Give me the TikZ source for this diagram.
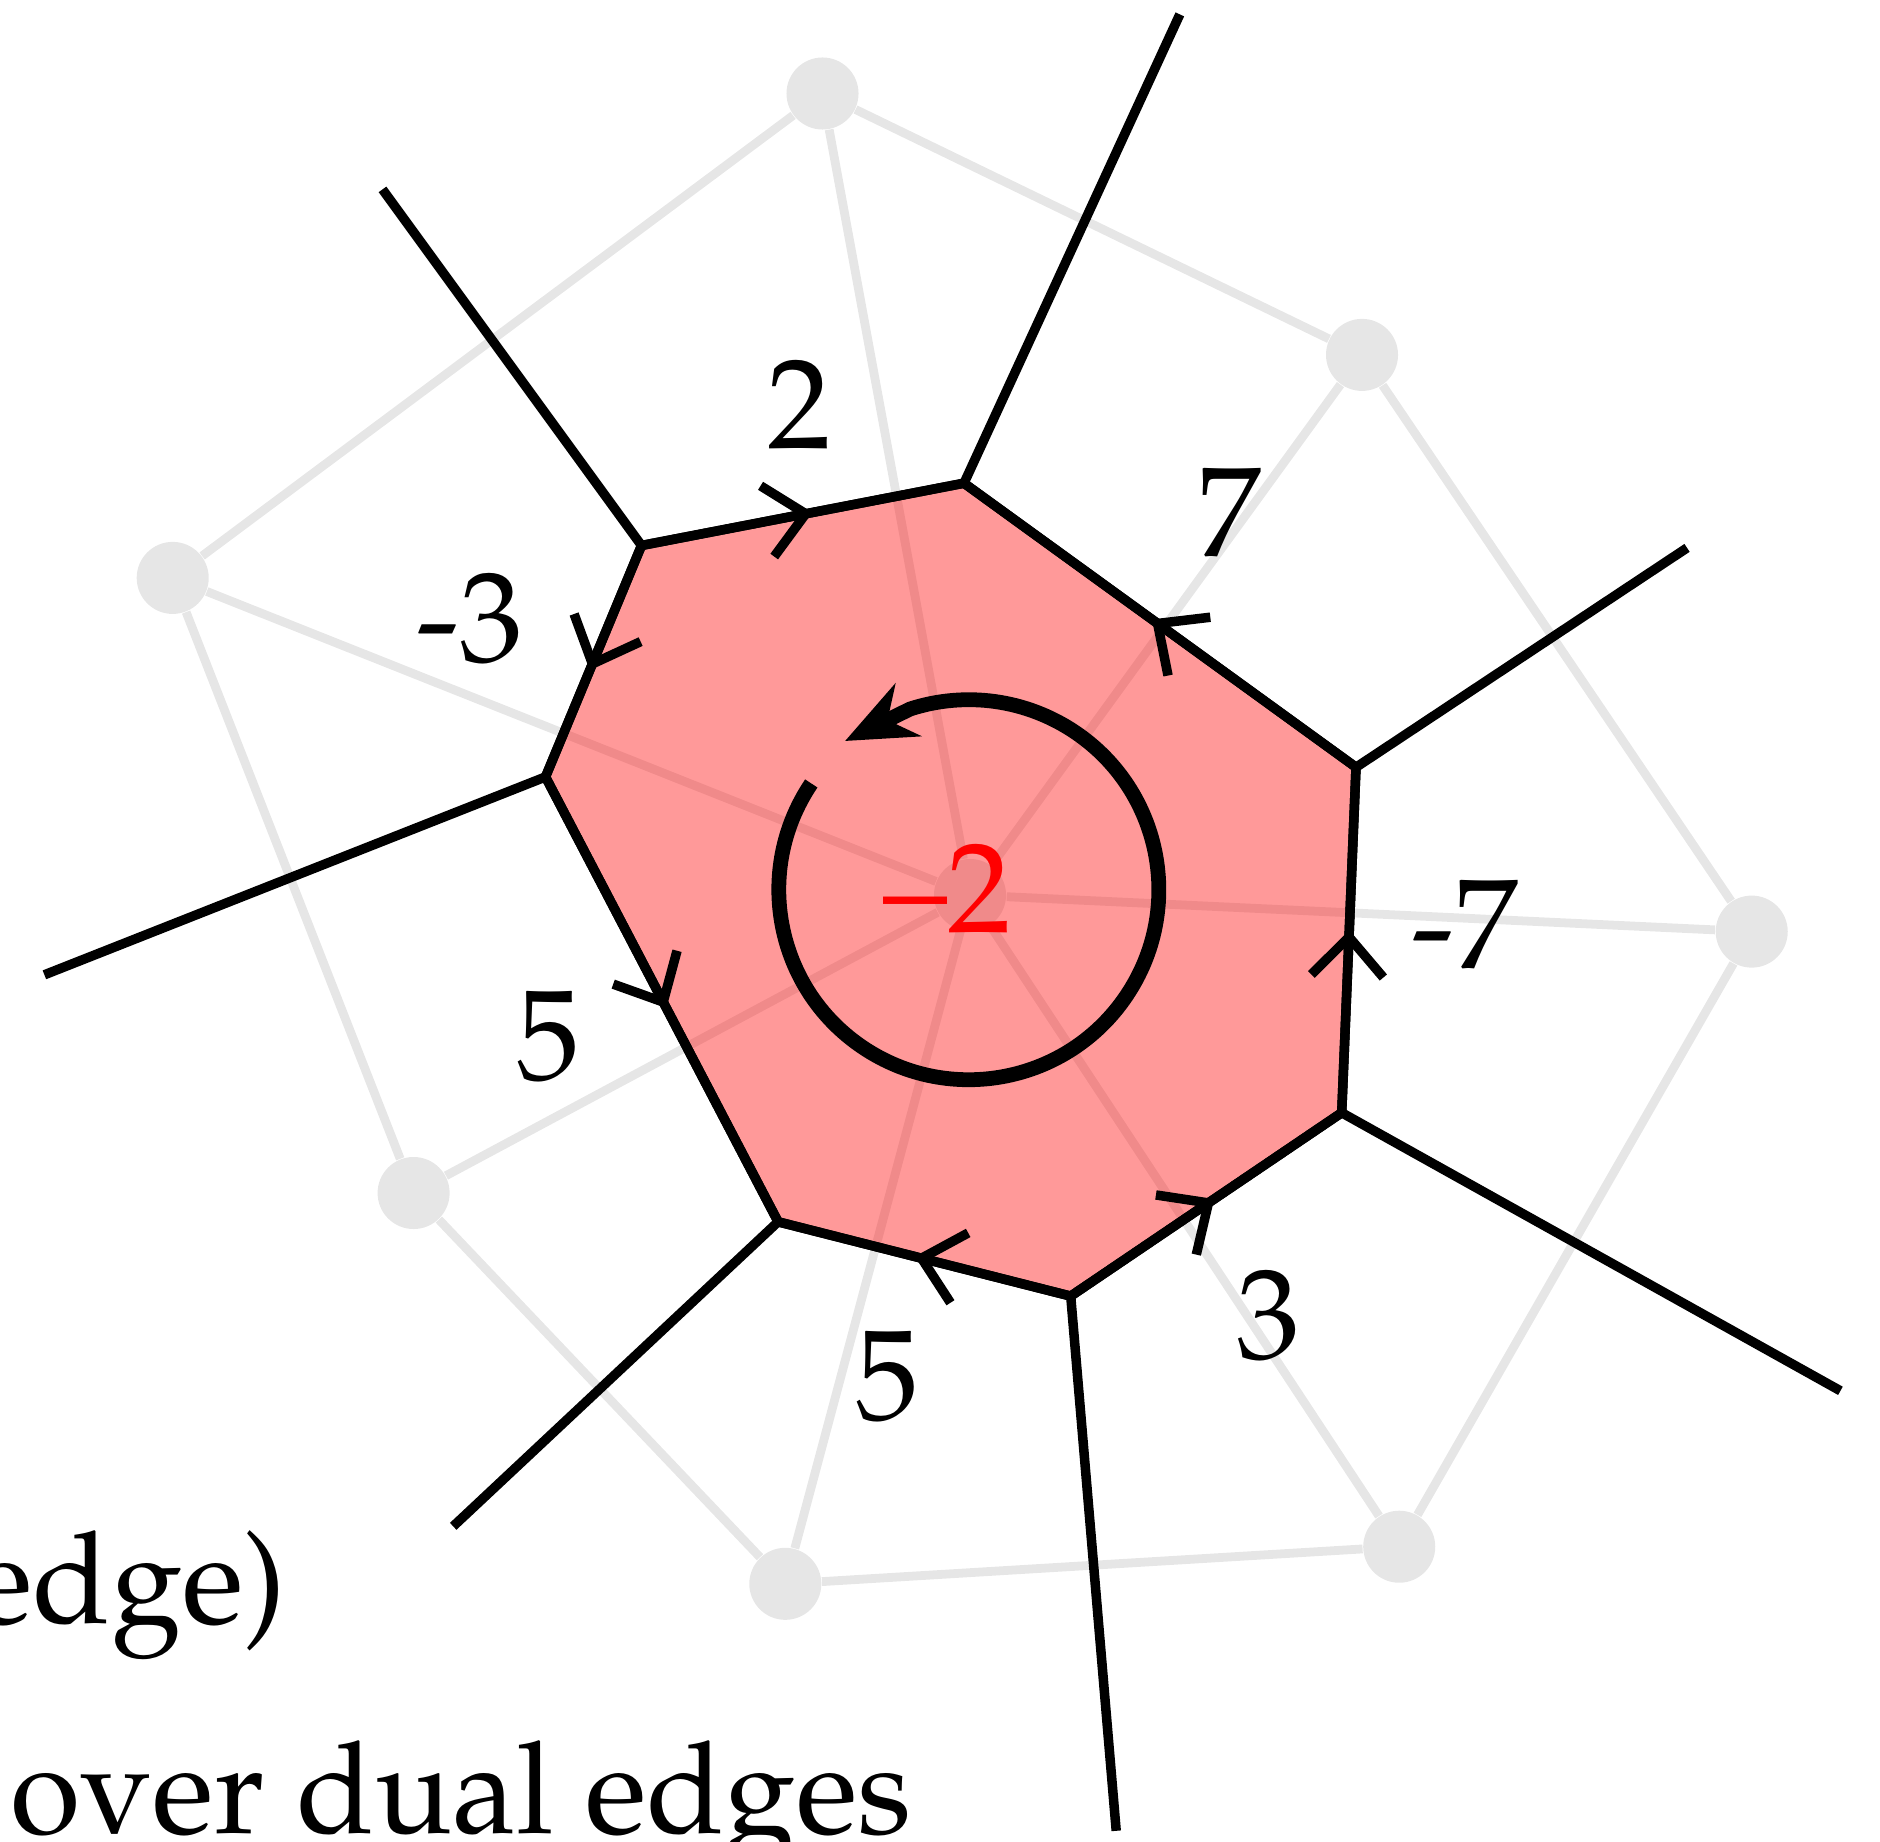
\documentclass[tikz,border=0pt]{standalone}
\usetikzlibrary{arrows.meta,decorations.markings,calc}
\newcommand\palfont{\fontencoding{OT1}\fontfamily{ppl}\selectfont}
\definecolor{lgray}{RGB}{230,230,230}
\begin{document}
\begin{tikzpicture}[x=0.01cm,y=0.01cm,
  primal/.style={draw=lgray, line width=2.5pt},
  pnode/.style={circle, fill=lgray, inner sep=0pt, minimum size=0.72cm},
  dual/.style={draw=black, line width=2.7pt},
  flow/.style={dual, decoration={markings, mark=at position 0.5 with {\pgftransformxshift{0.1cm}\arrow{Straight Barb[length=0.39cm,width=0.72cm]}}}, postaction={decorate}},
  lab/.style={font=\palfont\fontsize{36.4}{40}\selectfont, inner sep=0pt}
]
\useasboundingbox (0,0) rectangle (1880,1841);
\clip (0,0) rectangle (1880,1841);

% primal graph (light gray)
\node[pnode] (c0) at (970,946) {};
\node[pnode] (n1) at (822.5,1747.5) {};
\node[pnode] (n2) at (1362.0,1486.1) {};
\node[pnode] (n3) at (1751.7,909.4) {};
\node[pnode] (n4) at (1399.2,294.3) {};
\node[pnode] (n5) at (785.3,257.2) {};
\node[pnode] (n6) at (413.6,648.0) {};
\node[pnode] (n7) at (172.7,1263.1) {};
\foreach \i in {1,...,7} \draw[primal] (c0) -- (n\i);
\draw[primal] (n1) -- (n2);
\draw[primal] (n2) -- (n3);
\draw[primal] (n3) -- (n4);
\draw[primal] (n4) -- (n5);
\draw[primal] (n5) -- (n6);
\draw[primal] (n6) -- (n7);
\draw[primal] (n7) -- (n1);

% dual vertices
\coordinate (A) at (641.5,1295.5);
\coordinate (B) at (964.0,1357.8);
\coordinate (C) at (1356.0,1073.7);
\coordinate (D) at (1341.7,728.3);
\coordinate (E) at (1070.7,544.9);
\coordinate (F) at (778.1,619.2);
\coordinate (G) at (545.5,1064.1);
\coordinate (A1) at (382.5,1651.6);
\coordinate (B1) at (1179.8,1826.6);
\coordinate (C1) at (1687.0,1293.1);
\coordinate (D1) at (1840.4,450.2);
\coordinate (E1) at (1116.2,10.2);
\coordinate (F1) at (453.2,314.7);
\coordinate (G1) at (44.4,866.2);

% face
\draw[dual, fill=red, fill opacity=0.4, line join=miter] (A) -- (B) -- (C) -- (D) -- (E) -- (F) -- (G) -- cycle;

% dual edges with flow direction
\draw[flow] (A) -- (B);
\draw[flow] (C) -- (B);
\draw[flow] (D) -- (C);
\draw[flow] (E) -- (D);
\draw[flow] (E) -- (F);
\draw[flow] (G) -- (F);
\draw[flow] (A) -- (G);

% outgoing dual edges
\draw[dual] (A) -- (A1);
\draw[dual] (B) -- (B1);
\draw[dual] (C) -- (C1);
\draw[dual] (D) -- (D1);
\draw[dual] (E) -- (E1);
\draw[dual] (F) -- (F1);
\draw[dual] (G) -- (G1);

% circulation arrow
\coordinate (o) at (968.8,951.3);
\coordinate (tip) at (845,1100);
\draw[line width=4.2pt, -{Stealth[length=0.7cm,width=0.58cm]}] ($(o)+(146:190)$) arc[start angle=146, end angle=468, radius=190] -- (tip);

% labels
\node[lab] (l1) at (799.7,1435.7) {2};
\node[lab] (l2) at (1229,1327.8) {7};
\node[lab] (l3) at (470,1222.3) {-3};
\node[lab] (l4) at (1465.2,915.4) {-7};
\node[lab] (l5) at (548,803.9) {5};
\node[lab] (l6) at (887.3,464.6) {5};
\node[lab] (l7) at (1268.5,525.7) {3};
\node[lab, text=red] (lc) at (947.5,952) {--2};

\node[lab, anchor=base east] (t1) at (287,217.7) {edge)};
\node[lab, anchor=base west] (t2) at (10,7.7) {over dual edges};
\end{tikzpicture}
\end{document}
